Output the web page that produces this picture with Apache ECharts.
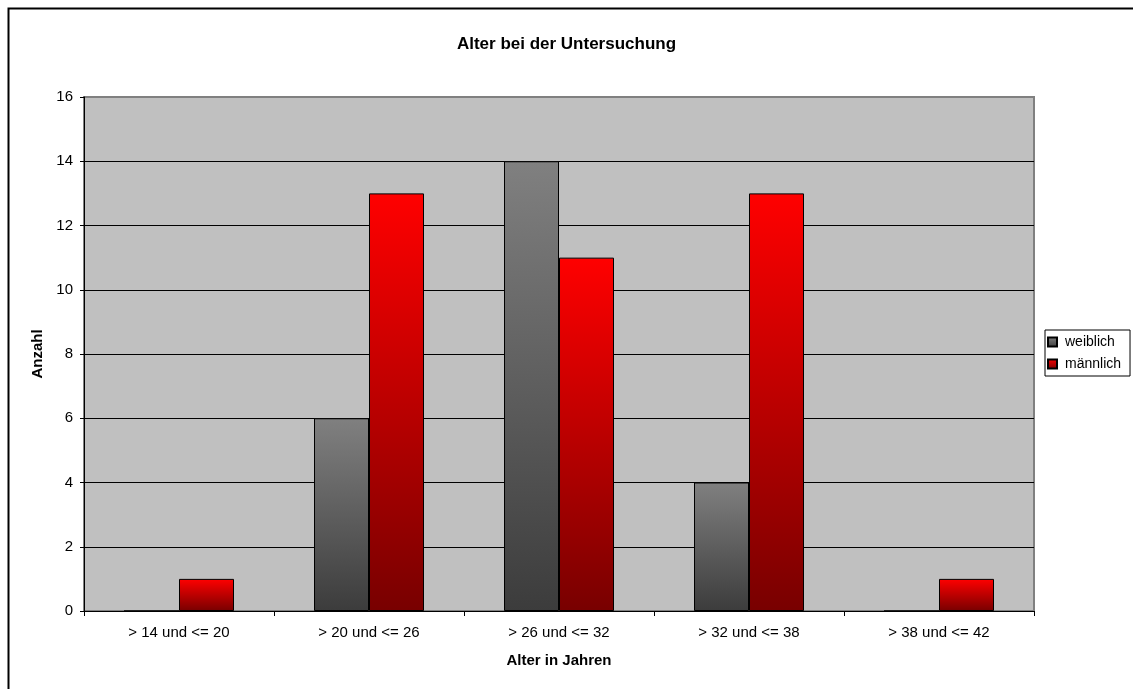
<!DOCTYPE html>
<html>
<head>
<meta charset="utf-8">
<script src="https://cdn.jsdelivr.net/npm/echarts@6/dist/echarts.min.js"></script>
<style>
  html, body { margin: 0; padding: 0; background: #fff; }
  #chart { width: 1133px; height: 689px; }
</style>
</head>
<body>
<div id="chart"></div>
<script>
// Age groups at examination
const categories = ['> 14 und <= 20', '> 20 und <= 26', '> 26 und <= 32', '> 32 und <= 38', '> 38 und <= 42'];
const weiblich = [0, 6, 14, 4, 0];
const maennlich = [1, 13, 11, 13, 1];
const yTicks = { min: 0, max: 16, interval: 2 };

const font = 'Liberation Sans, Arial, sans-serif';

function grad(top, bottom) {
  return new echarts.graphic.LinearGradient(0, 0, 0, 1, [
    { offset: 0, color: top },
    { offset: 1, color: bottom }
  ]);
}

const chart = echarts.init(document.getElementById('chart'), null, { renderer: 'canvas' });
chart.setOption({
  animation: false,
  backgroundColor: '#ffffff',
  title: {
    text: 'Alter bei der Untersuchung',
    left: 'center',
    top: 31,
    textStyle: { fontFamily: font, fontSize: 17, fontWeight: 'bold', color: '#000' }
  },
  legend: {
    orient: 'vertical',
    left: 1045,
    top: 330,
    padding: [5, 9, 5, 2],
    itemGap: 8,
    itemWidth: 9,
    itemHeight: 9,
    borderColor: '#000',
    borderWidth: 1,
    borderRadius: 0,
    backgroundColor: '#fff',
    icon: 'rect',
    textStyle: { fontFamily: font, fontSize: 14, color: '#000', padding: [0, 0, 0, 3] },
    data: ['weiblich', 'männlich']
  },
  grid: {
    left: 84,
    top: 97,
    width: 950,
    height: 514,
    show: true,
    backgroundColor: '#c0c0c0',
    borderColor: '#808080',
    borderWidth: 2
  },
  xAxis: {
    type: 'category',
    data: categories,
    name: 'Alter in Jahren',
    nameLocation: 'middle',
    nameGap: 42,
    nameTextStyle: { fontFamily: font, fontSize: 15, fontWeight: 'bold', color: '#000' },
    axisLine: { lineStyle: { color: '#000', width: 1 } },
    axisTick: { show: true, length: 5, lineStyle: { color: '#000' } },
    axisLabel: { fontFamily: font, fontSize: 15, color: '#000', margin: 14 }
  },
  yAxis: {
    type: 'value',
    min: yTicks.min,
    max: yTicks.max,
    interval: yTicks.interval,
    name: 'Anzahl',
    nameLocation: 'middle',
    nameGap: 36,
    nameRotate: 90,
    nameTextStyle: { fontFamily: font, fontSize: 15, fontWeight: 'bold', color: '#000' },
    axisLine: { show: true, lineStyle: { color: '#000', width: 1 } },
    axisTick: { show: true, length: 4, lineStyle: { color: '#000' } },
    axisLabel: { fontFamily: font, fontSize: 15, color: '#000', margin: 11 },
    splitLine: { show: true, showMaxLine: false, lineStyle: { color: '#000', width: 1 } }
  },
  series: [
    {
      name: 'weiblich',
      type: 'bar',
      data: weiblich,
      barWidth: 55,
      barGap: '0%',
      itemStyle: { color: grad('#808080', '#3c3c3c'), borderColor: '#000', borderWidth: 1 }
    },
    {
      name: 'männlich',
      type: 'bar',
      data: maennlich,
      barWidth: 55,
      barGap: '0%',
      itemStyle: { color: grad('#ff0000', '#780000'), borderColor: '#000', borderWidth: 1 }
    }
  ],
  graphic: [
    {
      type: 'rect',
      left: 6,
      top: 6,
      shape: { x: 0, y: 0, width: 1140, height: 700 },
      style: { fill: 'none', stroke: '#000', lineWidth: 2 },
      silent: true
    }
  ]
});
</script>
</body>
</html>
